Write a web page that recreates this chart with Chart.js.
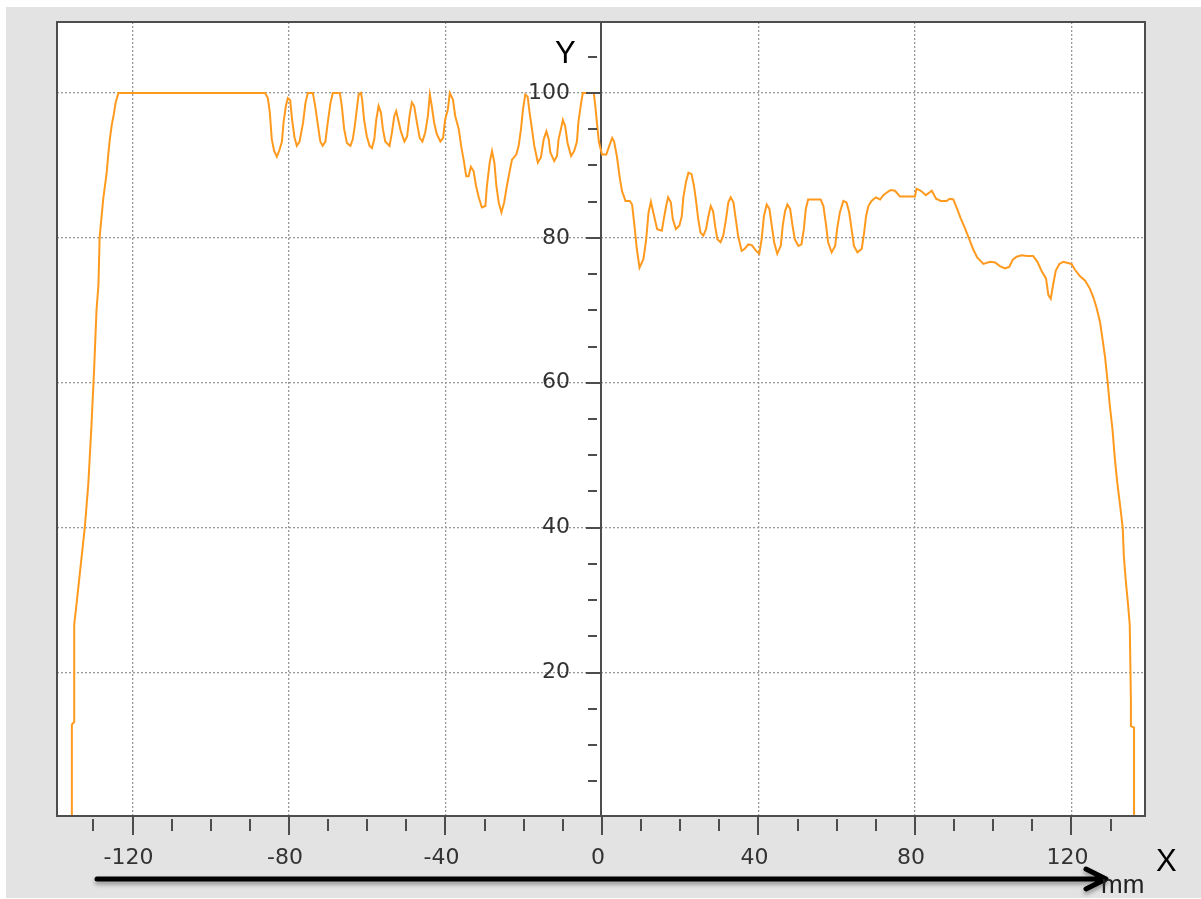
<!DOCTYPE html>
<html>
<head>
<meta charset="utf-8">
<script src="https://cdn.jsdelivr.net/npm/chart.js@4.4.1/dist/chart.umd.min.js"></script>
<style>
    html, body { margin: 0; padding: 0; background: #ffffff; }
    body { width: 1201px; height: 899px; position: relative; overflow: hidden; font-family: "Liberation Sans", Arial, sans-serif; }
    #panel { position: absolute; left: 6px; top: 7px; width: 1195px; height: 891px; background: #e3e3e3; }
    #wrap { position: absolute; left: 0; top: 0; width: 1201px; height: 899px; }
    .axisName { position: absolute; color: #000; font-size: 31px; line-height: 1; }
    .unit { position: absolute; color: #222; font-size: 26px; line-height: 1; }
</style>
</head>
<body>
<div id="panel"></div>
<div id="wrap"><canvas id="Chart1" width="1201" height="899"></canvas></div>
<div class="axisName" style="left:555px; top:37px;">Y</div>
<div class="axisName" style="left:1156px; top:845px;">X</div>
<div class="unit" style="left:1101px; top:871px;">mm</div>
<script>
// profile: position (mm) and value
const profileX = [
    -135.5, -135.5, -134.9, -134.9, -134.2, -133.2, -132.2, -131.3, -130.5, -129.8,
    -129.2, -128.7, -128.4, -127.5, -126.6, -126.2, -125.8, -125.3, -124.8, -124.3,
    -123.6, -86.1, -85.4, -84.9, -84.4, -83.8, -83.1, -82.4, -81.8, -81.4,
    -80.8, -80.3, -79.7, -79.2, -78.6, -78.0, -77.3, -76.4, -75.8, -75.2,
    -73.9, -73.3, -72.7, -72.0, -71.4, -70.7, -70.1, -69.4, -68.8, -67.0,
    -66.5, -65.9, -65.2, -64.3, -63.7, -63.2, -62.2, -61.6, -61.3, -60.8,
    -60.1, -59.4, -58.8, -58.2, -57.7, -57.1, -56.5, -56.0, -55.4, -54.3,
    -53.7, -53.1, -52.6, -52.0, -51.4, -50.5, -49.8, -49.2, -48.6, -48.0,
    -47.3, -46.6, -45.9, -45.2, -44.5, -44.0, -43.5, -42.9, -42.2, -41.3,
    -40.6, -40.1, -39.4, -38.9, -38.1, -37.5, -36.6, -36.0, -35.3, -34.7,
    -34.1, -33.5, -32.8, -32.2, -31.5, -30.7, -29.8, -29.4, -28.7, -28.1,
    -27.5, -27.0, -26.4, -25.7, -25.0, -24.3, -23.6, -23.0, -21.9, -21.3,
    -20.7, -20.2, -19.6, -19.0, -18.5, -17.9, -17.3, -16.4, -15.6, -14.9,
    -14.2, -13.6, -13.2, -12.2, -11.5, -11.1, -10.5, -10.0, -9.4, -8.8,
    -7.9, -7.1, -6.4, -6.0, -5.4, -4.9, -2.1, -1.7, -1.3, -0.8,
    0.0, 1.1, 2.0, 2.6, 3.1, 3.8, 4.5, 5.1, 6.0, 7.1,
    7.7, 8.3, 8.9, 9.6, 10.6, 11.3, 11.9, 12.5, 13.5, 14.1,
    15.3, 15.8, 16.4, 16.9, 17.6, 18.1, 18.9, 19.8, 20.4, 20.8,
    21.5, 22.1, 22.9, 23.5, 24.0, 24.6, 25.2, 25.9, 26.6, 27.2,
    27.8, 28.4, 28.9, 29.5, 30.3, 31.0, 31.7, 32.3, 32.9, 33.6,
    34.2, 34.8, 35.7, 36.5, 37.4, 38.3, 39.4, 40.2, 40.8, 41.4,
    42.1, 42.8, 43.4, 44.0, 44.8, 45.7, 46.2, 46.8, 47.4, 48.1,
    48.7, 49.3, 50.2, 51.0, 51.6, 52.1, 52.7, 55.9, 56.6, 57.3,
    57.8, 58.7, 59.6, 60.1, 60.8, 61.7, 62.5, 63.2, 63.8, 64.4,
    65.3, 66.4, 67.0, 67.5, 68.1, 68.9, 70.0, 71.1, 71.9, 72.9,
    73.8, 74.9, 76.2, 80.0, 80.4, 81.5, 82.8, 84.3, 85.4, 86.6,
    88.1, 88.9, 89.8, 90.7, 91.7, 92.8, 93.9, 94.9, 95.9, 97.5,
    99.2, 100.5, 101.7, 103.0, 104.1, 105.0, 106.0, 107.3, 108.7, 110.2,
    111.3, 112.4, 113.5, 114.1, 114.7, 115.3, 116.0, 116.9, 117.9, 120.0,
    120.9, 122.2, 123.5, 124.7, 125.6, 126.4, 127.3, 128.0, 128.6, 129.2,
    129.8, 130.5, 131.1, 131.7, 132.4, 133.1, 133.4, 133.9, 134.5, 134.9,
    135.2, 135.2, 136.0, 136.0
];
const profileY = [
    0, 12.8, 13.2, 26.6, 30, 35, 40, 46, 54, 62,
    70, 73.6, 80.1, 85.3, 89.0, 91.5, 93.6, 95.6, 97.0, 98.7,
    100, 100, 99.3, 97.3, 93.6, 92.0, 91.2, 92.2, 93.3, 95.9,
    98.2, 99.3, 99.0, 96.3, 93.9, 92.7, 93.3, 95.9, 98.6, 100,
    100, 98.2, 95.9, 93.3, 92.7, 93.3, 95.9, 98.6, 100, 100,
    98.2, 95.0, 93.1, 92.7, 93.6, 95.4, 99.8, 100, 99.1, 96.3,
    94.0, 92.7, 92.4, 93.6, 96.3, 98.2, 97.3, 95.0, 93.3, 92.7,
    94.5, 96.8, 97.5, 96.1, 94.7, 93.3, 94.0, 96.8, 98.7, 98.2,
    95.9, 93.8, 93.3, 94.5, 96.8, 99.8, 98.2, 95.9, 94.3, 93.3,
    93.8, 96.3, 97.7, 100, 99.1, 96.8, 95.0, 92.7, 90.6, 88.5,
    88.5, 89.8, 89.2, 87.2, 85.6, 84.2, 84.4, 87.2, 90.4, 92.0,
    90.4, 87.2, 84.9, 83.5, 84.9, 87.2, 89.2, 90.8, 91.5, 92.7,
    95.0, 97.7, 99.8, 99.5, 97.3, 95.0, 92.7, 90.4, 91.1, 93.6,
    94.7, 93.6, 91.8, 90.6, 91.3, 93.6, 95.0, 96.3, 95.4, 93.1,
    91.3, 92.0, 93.3, 96.1, 98.4, 100, 100, 98.2, 95.9, 93.3,
    91.5, 91.5, 92.9, 93.8, 93.3, 91.3, 88.5, 86.5, 85.1, 85.1,
    84.6, 81.7, 78.5, 75.9, 77.1, 79.8, 83.5, 85.0, 82.6, 81.2,
    81.0, 82.6, 84.4, 85.6, 84.9, 82.6, 81.2, 81.7, 83.0, 85.6,
    87.8, 89.0, 88.8, 87.2, 85.3, 82.6, 80.7, 80.3, 81.2, 83.0,
    84.4, 83.7, 81.7, 79.8, 79.4, 80.3, 82.6, 84.9, 85.6, 84.9,
    82.6, 80.3, 78.2, 78.5, 79.1, 79.0, 78.2, 77.8, 79.8, 83.0,
    84.6, 84.0, 81.7, 79.4, 77.8, 78.9, 81.7, 83.7, 84.6, 84.0,
    81.7, 79.8, 78.9, 79.1, 81.2, 84.0, 85.3, 85.3, 84.4, 81.7,
    79.4, 78.0, 78.9, 81.2, 83.5, 85.1, 84.9, 83.5, 81.2, 78.9,
    78.0, 78.5, 80.7, 83.0, 84.4, 85.1, 85.6, 85.3, 85.9, 86.3,
    86.6, 86.5, 85.7, 85.7, 86.8, 86.5, 85.9, 86.5, 85.4, 85.1,
    85.1, 85.4, 85.3, 84.1, 82.7, 81.3, 79.8, 78.4, 77.3, 76.4,
    76.7, 76.6, 76.1, 75.8, 76.0, 77.0, 77.4, 77.6, 77.5, 77.5,
    76.7, 75.4, 74.4, 72.1, 71.6, 73.5, 75.5, 76.4, 76.7, 76.4,
    75.6, 74.7, 74.1, 73.0, 71.8, 70.4, 68.4, 65.8, 63.5, 60.4,
    56.9, 53.5, 49.5, 46.3, 43.2, 40.0, 36.0, 32.6, 29.2, 26.6,
    16.0, 12.6, 12.4, 0
];

const xLabelTicks = [-120, -80, -40, 0, 40, 80, 120];
const yLabelTicks = [20, 40, 60, 80, 100];
const xRange = [-139.3, 138.8];
const yRange = [0.2, 109.8];

const axisColor = '#4d4d4d';
const gridColor = '#999999';

// white plot field, frame, tick marks and the X arrow
const framePlugin = {
    id: 'frame',
    beforeDraw(chart) {
        const { ctx, chartArea: a } = chart;
        ctx.save();
        ctx.fillStyle = '#ffffff';
        ctx.fillRect(a.left, a.top, a.right - a.left, a.bottom - a.top);
        ctx.restore();
    },
    afterDraw(chart) {
        const { ctx, chartArea: a } = chart;
        const xs = chart.scales.x;
        const ys = chart.scales.y;
        const axisX = (a.left + a.right) / 2;

        ctx.save();
        ctx.strokeStyle = axisColor;
        ctx.lineWidth = 2;
        ctx.strokeRect(a.left, a.top, a.right - a.left, a.bottom - a.top);

        ctx.beginPath();
        xs.ticks.forEach(t => {
            const px = Math.round(xs.getPixelForValue(t.value));
            const major = xLabelTicks.includes(t.value);
            ctx.moveTo(px, a.bottom + (major ? 0 : 3));
            ctx.lineTo(px, a.bottom + (major ? 19 : 15));
        });
        ys.ticks.forEach(t => {
            const py = Math.round(ys.getPixelForValue(t.value));
            const major = yLabelTicks.includes(t.value);
            ctx.moveTo(axisX - (major ? 15 : 13), py);
            ctx.lineTo(axisX - (major ? 0 : 4), py);
        });
        ctx.stroke();

        // arrow under the x axis
        ctx.strokeStyle = '#000000';
        ctx.lineWidth = 5;
        ctx.lineCap = 'round';
        ctx.lineJoin = 'round';
        ctx.shadowColor = 'rgba(0,0,0,0.35)';
        ctx.shadowBlur = 4;
        ctx.shadowOffsetY = 3;
        ctx.beginPath();
        ctx.moveTo(97, 879);
        ctx.lineTo(1103, 879);
        ctx.moveTo(1086, 869);
        ctx.lineTo(1106, 879);
        ctx.lineTo(1086, 889);
        ctx.stroke();
        ctx.restore();
    }
};

const canvas = document.getElementById('Chart1');
const ctx = canvas.getContext('2d');
const points = profileX.map((x, i) => ({ x: x, y: profileY[i] }));

new Chart(ctx, {
    type: 'line',
    data: {
        datasets: [{
            data: points,
            borderColor: '#ff9a1f',
            borderWidth: 2,
            pointRadius: 0,
            tension: 0,
            fill: false
        }]
    },
    options: {
        responsive: false,
        animation: false,
        devicePixelRatio: 1,
        layout: { padding: { left: 57, top: 22, right: 56, bottom: 23 } },
        plugins: { legend: { display: false }, tooltip: { enabled: false } },
        scales: {
            x: {
                type: 'linear',
                position: 'bottom',
                min: xRange[0],
                max: xRange[1],
                afterFit: (scale) => { scale.height = 60; },
                ticks: {
                    stepSize: 10,
                    includeBounds: false,
                    autoSkip: false,
                    maxRotation: 0,
                    padding: 29,
                    labelOffset: -4,
                    color: '#333333',
                    font: { family: 'DejaVu Sans', size: 22 },
                    callback: (v) => xLabelTicks.includes(v) ? String(v) : ''
                },
                grid: {
                    drawTicks: false,
                    lineWidth: 1.3,
                    color: (c) => (c.tick && c.tick.value !== 0 && xLabelTicks.includes(c.tick.value)) ? gridColor : 'transparent'
                },
                border: { display: false, dash: [2, 2] }
            },
            y: {
                type: 'linear',
                position: 'center',
                min: yRange[0],
                max: yRange[1],
                ticks: {
                    stepSize: 5,
                    includeBounds: false,
                    autoSkip: false,
                    padding: 0,
                    color: '#333333',
                    font: { family: 'DejaVu Sans', size: 22 },
                    callback: (v) => yLabelTicks.includes(v) ? String(v) : ''
                },
                grid: {
                    drawTicks: true,
                    tickLength: 31,
                    tickColor: 'transparent',
                    lineWidth: 1.3,
                    color: (c) => (c.tick && yLabelTicks.includes(c.tick.value)) ? gridColor : 'transparent'
                },
                border: { display: true, color: axisColor, width: 2, dash: [2, 2] }
            }
        }
    },
    plugins: [framePlugin]
});
</script>
</body>
</html>
